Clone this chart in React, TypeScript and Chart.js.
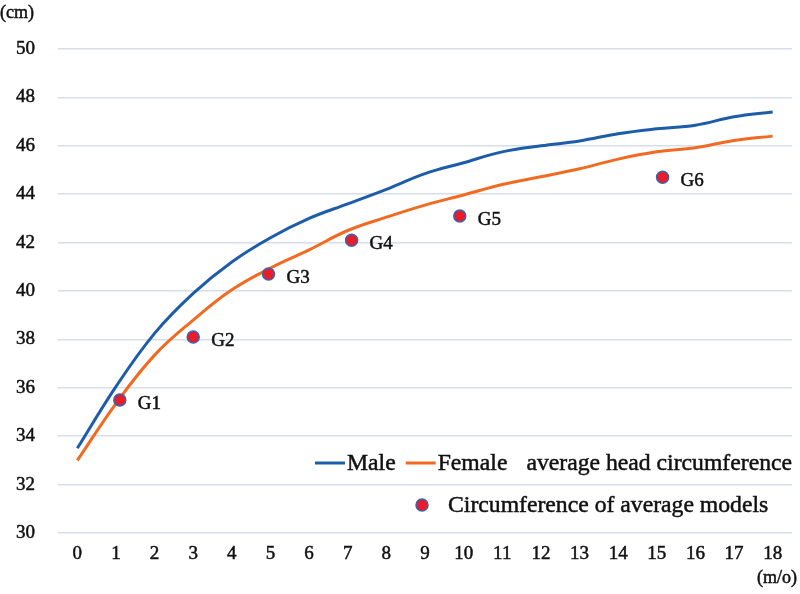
import React, { useEffect, useRef } from "react";
import { Chart, registerables } from "chart.js";

Chart.register(...registerables);

// ---- data ----
const months = [0, 1, 2, 3, 4, 5, 6, 7, 8, 9, 10, 11, 12, 13, 14, 15, 16, 17, 18];
const maleCm = [33.5, 36.05, 38.25, 39.9, 41.2, 42.2, 43.0, 43.6, 44.2, 44.85, 45.3, 45.75, 46.0, 46.2, 46.5, 46.7, 46.85, 47.2, 47.4];
const femaleCm = [33.0, 35.35, 37.35, 38.8, 40.05, 40.95, 41.7, 42.5, 43.05, 43.55, 43.97, 44.4, 44.72, 45.05, 45.45, 45.75, 45.92, 46.22, 46.4];
const modelMonths = [1.1, 3.0, 4.95, 7.1, 9.9, 15.15];
const modelCm = [35.5, 38.1, 40.7, 42.1, 43.1, 44.7];
const modelLabels = ["G1", "G2", "G3", "G4", "G5", "G6"];
const yMin = 30;
const yMax = 50;
const yStep = 2;
const maleLabel = "Male";
const femaleLabel = "Female";
const lineSuffix = "average head circumference";
const modelLegend = "Circumference of average models";
const yUnit = "(cm)";
const xUnit = "(m/o)";

const FONT = "'Liberation Serif', 'Times New Roman', serif";
const INK = "#111";
const HEAVY = 0.5;
const BLUE = "#1c5ca9";
const ORANGE = "#f26a21";
const RED = "#e81c2b";
const DOT_BORDER = "#3a63ae";
const GRID = "#d6deea";

function heavyText(ctx: CanvasRenderingContext2D, s: string, x: number, y: number) {
  ctx.fillText(s, x, y);
  ctx.strokeText(s, x, y);
}

const overlayPlugin = {
  id: "overlay",
  afterDatasetsDraw(chart: any) {
    const ctx = chart.ctx as CanvasRenderingContext2D;
    const { left, right, top, bottom } = chart.chartArea;
    ctx.save();
    ctx.fillStyle = INK;
    ctx.strokeStyle = INK;
    ctx.lineWidth = HEAVY;
    ctx.textBaseline = "middle";
    ctx.textAlign = "left";
    ctx.font = `19px ${FONT}`;
    const meta = chart.getDatasetMeta(0);
    meta.data.forEach((pt: any, i: number) => {
      heavyText(ctx, modelLabels[i], pt.x + 18, pt.y + 4);
    });
    ctx.font = `18px ${FONT}`;
    heavyText(ctx, yUnit, left - 58, top - 36);
    ctx.textAlign = "right";
    heavyText(ctx, xUnit, right + 5, bottom + 45);

    // legend row 1
    ctx.textAlign = "left";
    ctx.font = `23.7px ${FONT}`;
    const y1 = bottom - 70;
    let x = left + 257;
    const seg = (color: string) => {
      ctx.save();
      ctx.strokeStyle = color;
      ctx.lineWidth = 3;
      ctx.beginPath();
      ctx.moveTo(x, y1);
      ctx.lineTo(x + 30, y1);
      ctx.stroke();
      ctx.restore();
      x += 32;
    };
    seg(BLUE);
    heavyText(ctx, maleLabel, x, y1 + 1);
    x += ctx.measureText(maleLabel).width + 10;
    seg(ORANGE);
    heavyText(ctx, femaleLabel, x, y1 + 1);
    x += ctx.measureText(femaleLabel).width + 19;
    heavyText(ctx, lineSuffix, x, y1 + 1);

    // legend row 2
    const y2 = bottom - 28;
    const dx = left + 364;
    ctx.save();
    ctx.beginPath();
    ctx.arc(dx, y2, 6, 0, Math.PI * 2);
    ctx.fillStyle = RED;
    ctx.fill();
    ctx.lineWidth = 1.5;
    ctx.strokeStyle = DOT_BORDER;
    ctx.stroke();
    ctx.restore();
    heavyText(ctx, modelLegend, dx + 26, y2 + 1);
    ctx.restore();
  },
};

export default function App() {
  const ref = useRef<HTMLCanvasElement | null>(null);
  useEffect(() => {
    document.body.style.margin = "0";
    const canvas = ref.current;
    if (!canvas) return;
    const chart = new Chart(canvas, {
      type: "line",
      data: {
        datasets: [
          {
            type: "scatter",
            label: modelLegend,
            data: modelMonths.map((m, i) => ({ x: m, y: modelCm[i] })),
            backgroundColor: RED,
            borderColor: DOT_BORDER,
            borderWidth: 1.5,
            pointRadius: 6,
            pointBorderWidth: 1.5,
            order: 0,
          } as any,
          {
            label: maleLabel,
            data: months.map((m, i) => ({ x: m, y: maleCm[i] })),
            borderColor: BLUE,
            borderWidth: 3,
            pointRadius: 0,
            tension: 0.4,
            fill: false,
            order: 1,
          },
          {
            label: femaleLabel,
            data: months.map((m, i) => ({ x: m, y: femaleCm[i] })),
            borderColor: ORANGE,
            borderWidth: 3,
            pointRadius: 0,
            tension: 0.4,
            fill: false,
            order: 2,
          },
        ],
      },
      options: {
        animation: false,
        responsive: false,
        maintainAspectRatio: false,
        layout: { padding: { left: 0, right: 8, top: 49, bottom: 0 } },
        plugins: { legend: { display: false }, tooltip: { enabled: false } },
        scales: {
          x: {
            type: "linear",
            min: months[0] - 0.5,
            max: months[months.length - 1] + 0.5,
            afterBuildTicks: (s: any) => {
              s.ticks = months.map((v) => ({ value: v }));
            },
            afterFit: (s: any) => {
              s.height = 61;
            },
            grid: { display: false, drawTicks: false },
            border: { display: false },
            ticks: {
              padding: 10,
              color: INK,
              textStrokeColor: INK,
              textStrokeWidth: HEAVY,
              font: { family: FONT, size: 19 },
              autoSkip: false,
              maxRotation: 0,
              callback: (v: any) => String(v),
            },
          },
          y: {
            min: yMin,
            max: yMax,
            afterFit: (s: any) => {
              s.width = 58;
            },
            grid: { color: GRID, lineWidth: 1.5, drawTicks: false },
            border: { display: false },
            ticks: {
              stepSize: yStep,
              padding: 23,
              color: INK,
              textStrokeColor: INK,
              textStrokeWidth: HEAVY,
              font: { family: FONT, size: 19 },
            },
          },
        },
      },
      plugins: [overlayPlugin],
    });
    return () => chart.destroy();
  }, []);
  return (
    <div style={{ width: 800, height: 594 }}>
      <canvas ref={ref} width={800} height={594} />
    </div>
  );
}
